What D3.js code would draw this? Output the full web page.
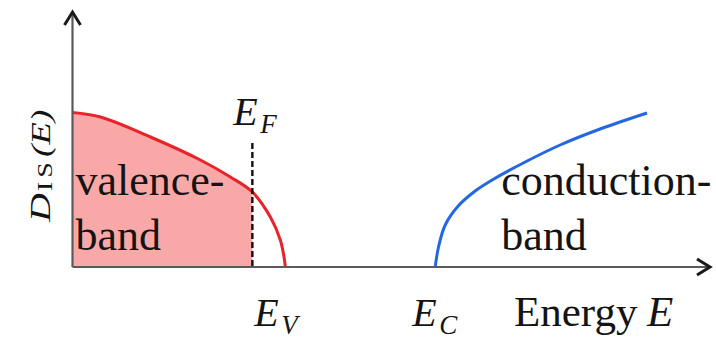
<!DOCTYPE html>
<html>
<head>
<meta charset="utf-8">
<script src="https://cdn.jsdelivr.net/npm/d3@7"></script>
</head>
<body style="margin:0">
<svg id="chart" width="716" height="344"></svg>
<script>
// Density of states (arbitrary units) against energy (arbitrary units)
const valenceBand = [
  [0.00, 1.545], [0.28, 1.50], [0.78, 1.30], [1.28, 1.07], [1.58, 0.90],
  [1.80, 0.75], [1.98, 0.50], [2.08, 0.27], [2.12, 0.08], [2.13, 0.00]
];
const conductionBand = [
  [3.63, 0.00], [3.663, 0.20], [3.73, 0.42], [3.86, 0.61], [4.03, 0.76],
  [4.20, 0.87], [4.55, 1.06], [4.88, 1.22], [5.28, 1.38], [5.75, 1.54]
];
const levels = { EF: 1.80, EV: 2.13, EC: 3.63 };
const efLineTop = 1.24;
const axisEnd = { energy: 6.38, density: 2.55 };
const bandLabels = [
  { lines: ["valence-", "band"], energy: 0.03 },
  { lines: ["conduction-", "band"], energy: 4.29 }
];
const xTitle = "Energy";
const yTitle = { main: "D", sub: "IS", arg: "(E)" };

const serifFont = "Liberation Serif";
const ink = "#141414";

const svg = d3.select("#chart");
const x = d3.scaleLinear().domain([0, axisEnd.energy]).range([72.5, 710]);
const y = d3.scaleLinear().domain([0, axisEnd.density]).range([267, 12]);
const curve = d3.curveCatmullRom.alpha(0.5);

// filled (occupied) part of the valence band, up to the Fermi level
const occupied = valenceBand.filter(d => d[0] <= levels.EF);
svg.append("path")
  .datum(occupied)
  .attr("fill", "#f9a8a8")
  .attr("d", d3.area().x(d => x(d[0])).y0(y(0)).y1(d => y(d[1])).curve(curve));

// band edges
const line = d3.line().x(d => x(d[0])).y(d => y(d[1])).curve(curve);
svg.append("path").datum(valenceBand)
  .attr("fill", "none").attr("stroke", "#e8232b").attr("stroke-width", 3).attr("d", line);
svg.append("path").datum(conductionBand)
  .attr("fill", "none").attr("stroke", "#2467e0").attr("stroke-width", 3).attr("d", line);

// Fermi level marker
svg.append("line")
  .attr("x1", x(levels.EF)).attr("x2", x(levels.EF))
  .attr("y1", y(efLineTop)).attr("y2", y(0))
  .attr("stroke", "#111").attr("stroke-width", 2.4).attr("stroke-dasharray", "6,3");

// axes with open arrowheads
svg.append("line")
  .attr("x1", x(0)).attr("x2", x(axisEnd.energy) - 1).attr("y1", y(0)).attr("y2", y(0))
  .attr("stroke", "#5a5a5a").attr("stroke-width", 2.2);
svg.append("line")
  .attr("x1", x(0)).attr("x2", x(0)).attr("y1", y(0)).attr("y2", y(axisEnd.density) + 1)
  .attr("stroke", "#5a5a5a").attr("stroke-width", 2.2);
const tipX = [x(axisEnd.energy), y(0)];
svg.append("path")
  .attr("d", `M${tipX[0] - 13},${tipX[1] - 8} L${tipX[0]},${tipX[1]} L${tipX[0] - 13},${tipX[1] + 8}`)
  .attr("fill", "none").attr("stroke", "#1a1a1a").attr("stroke-width", 3);
const tipY = [x(0), y(axisEnd.density)];
svg.append("path")
  .attr("d", `M${tipY[0] - 8},${tipY[1] + 13} L${tipY[0]},${tipY[1]} L${tipY[0] + 8},${tipY[1] + 13}`)
  .attr("fill", "none").attr("stroke", "#1a1a1a").attr("stroke-width", 3);

// one text element per run, each with its own font settings
function label(parent, px, py, str, size, italic) {
  return parent.append("text")
    .attr("x", px).attr("y", py)
    .attr("font-family", serifFont)
    .style("font-family", serifFont)
    .style("font-size", size + "px")
    .style("font-style", italic ? "italic" : "normal")
    .attr("fill", ink)
    .text(str);
}

// band labels
bandLabels.forEach(b => {
  b.lines.forEach((s, i) => label(svg, x(b.energy), 195 + i * 55, s, 44, false));
});

// level labels with subscripts
function levelLabel(px, py, sub) {
  label(svg, px, py, "E", 40, true);
  label(svg, px + 27, py + 8, sub, 27, true);
}
levelLabel(x(levels.EF) - 19, 125, "F");
levelLabel(x(levels.EV) - 31, 326, "V");
levelLabel(x(levels.EC) - 23, 326, "C");

// x-axis title
label(svg, 514, 326, xTitle, 43, false);
label(svg, 647, 326, "E", 43, true);

// y-axis title, rotated
const yg = svg.append("g").attr("transform", "translate(50,222) rotate(-90) scale(1,0.72)");
label(yg, 0, 0, yTitle.main, 40, true);
label(yg, 31, 3, yTitle.sub, 28, false).style("letter-spacing", "4px");
label(yg, 65, 0, yTitle.arg, 37, true);
</script>
</body>
</html>
